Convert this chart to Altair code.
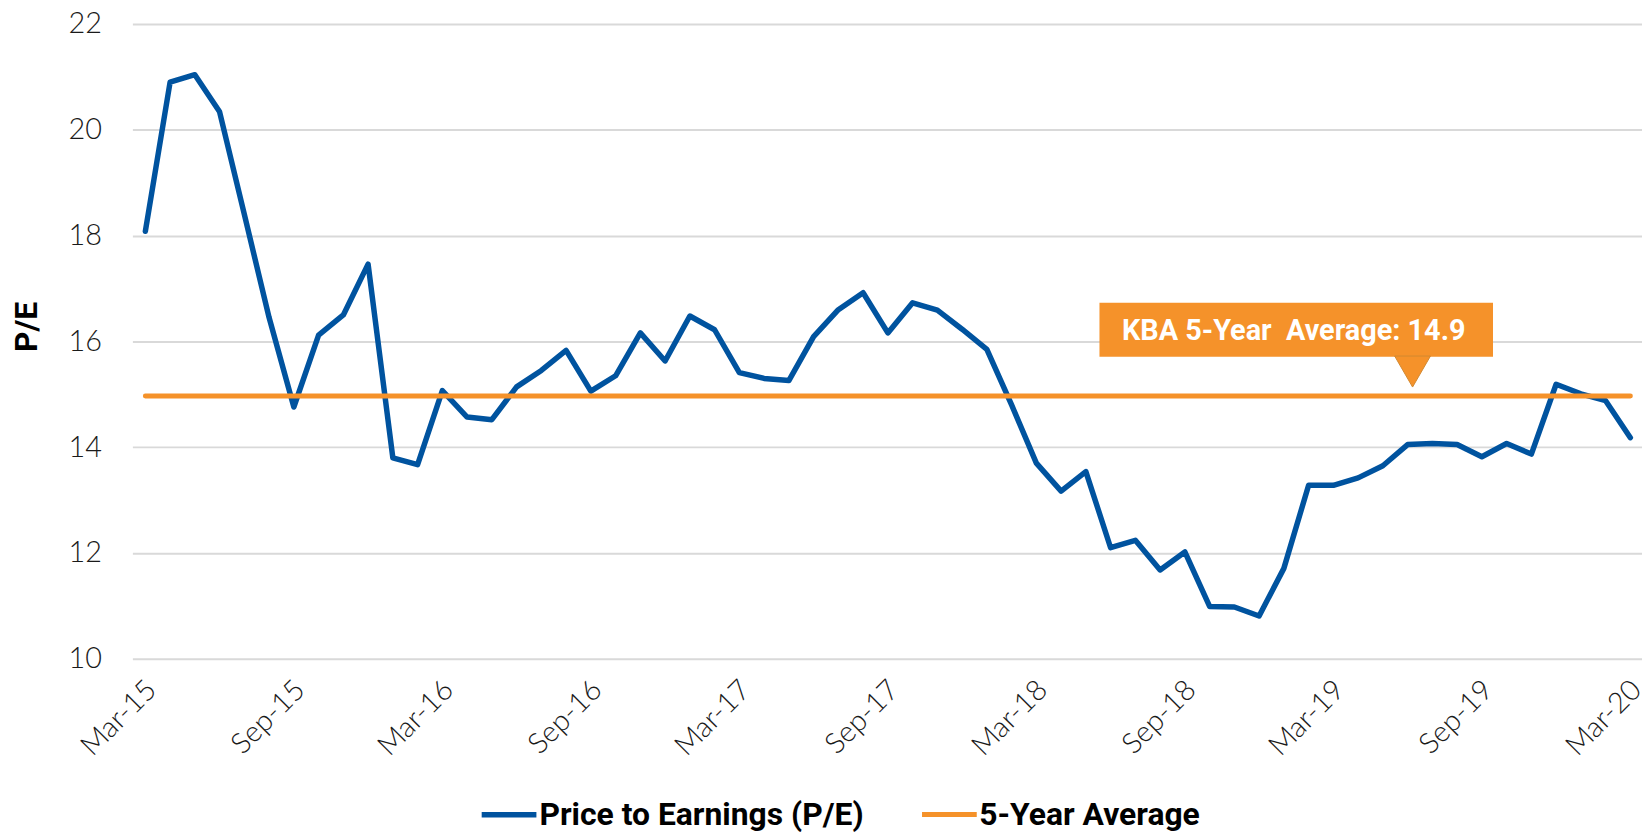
import altair as alt
import pandas as pd

# ---------------- data ----------------
MONTHS = [
    "Mar-15", "Apr-15", "May-15", "Jun-15", "Jul-15", "Aug-15", "Sep-15", "Oct-15", "Nov-15", "Dec-15",
    "Jan-16", "Feb-16", "Mar-16", "Apr-16", "May-16", "Jun-16", "Jul-16", "Aug-16", "Sep-16", "Oct-16",
    "Nov-16", "Dec-16", "Jan-17", "Feb-17", "Mar-17", "Apr-17", "May-17", "Jun-17", "Jul-17", "Aug-17",
    "Sep-17", "Oct-17", "Nov-17", "Dec-17", "Jan-18", "Feb-18", "Mar-18", "Apr-18", "May-18", "Jun-18",
    "Jul-18", "Aug-18", "Sep-18", "Oct-18", "Nov-18", "Dec-18", "Jan-19", "Feb-19", "Mar-19", "Apr-19",
    "May-19", "Jun-19", "Jul-19", "Aug-19", "Sep-19", "Oct-19", "Nov-19", "Dec-19", "Jan-20", "Feb-20",
    "Mar-20",
]
PE = [
    18.08, 20.90, 21.04, 20.34, 18.40, 16.45, 14.76, 16.12, 16.50, 17.46,
    13.80, 13.67, 15.07, 14.57, 14.52, 15.14, 15.45, 15.83, 15.06, 15.35,
    16.16, 15.63, 16.48, 16.22, 15.41, 15.30, 15.26, 16.09, 16.60, 16.92,
    16.16, 16.73, 16.59, 16.23, 15.85, 14.80, 13.70, 13.17, 13.54, 12.10,
    12.24, 11.68, 12.02, 10.99, 10.98, 10.81, 11.71, 13.28, 13.28, 13.42,
    13.65, 14.05, 14.07, 14.05, 13.82, 14.07, 13.87, 15.19, 15.01, 14.88,
    14.18,
]
AVERAGE = 14.97
SERIES = ["Price to Earnings (P/E)", "5-Year Average"]
COLORS = ["#00539F", "#F5922A"]
Y_TICKS = [10, 12, 14, 16, 18, 20, 22]
X_TICK_LABELS = ["Mar-15", "Sep-15", "Mar-16", "Sep-16", "Mar-17", "Sep-17",
                 "Mar-18", "Sep-18", "Mar-19", "Sep-19", "Mar-20"]
ANNOTATION_TEXT = "KBA 5-Year\u00a0 Average: 14.9"

# ---------------- tables ----------------
rows = []
for i, (m, v) in enumerate(zip(MONTHS, PE)):
    rows.append({"idx": i, "month": m, "value": v, "series": SERIES[0]})
for i, m in enumerate(MONTHS):
    rows.append({"idx": i, "month": m, "value": AVERAGE, "series": SERIES[1]})
df = pd.DataFrame(rows)

# annotation box placed in data space (month index / P/E units)
box = pd.DataFrame([{"idx": 38.55, "idx2": 54.45, "value": 15.71, "value2": 16.73}])
tri = pd.DataFrame([{"idx": 51.2, "value": 15.43}])
lab = pd.DataFrame([{"idx": 46.4, "value": 16.02, "text": ANNOTATION_TEXT}])

FONT = "Roboto"
TICK_FONT = "Lato"
label_array = "[" + ",".join("'" + m + "'" for m in MONTHS) + "]"
tick_idx = [MONTHS.index(m) for m in X_TICK_LABELS]

x_scale = alt.Scale(domain=[-0.523, 60.47], nice=False, zero=False)
y_scale = alt.Scale(domain=[10, 22], nice=False, zero=False)

x_axis = alt.Axis(
    values=tick_idx,
    labelExpr=label_array + "[datum.value]",
    labelAngle=-45,
    labelAlign="right",
    labelBaseline="middle",
    labelPadding=26,
    labelOffset=6,
    labelFont=TICK_FONT,
    labelFontWeight=300,
    labelFontSize=29,
    labelColor="#1a1a1a",
    ticks=False,
    domain=False,
    grid=False,
    title=None,
    labelOverlap=False,
)
y_axis = alt.Axis(
    values=Y_TICKS,
    format="d",
    labelFont=TICK_FONT,
    labelFontWeight=300,
    labelFontSize=29,
    labelColor="#1a1a1a",
    labelPadding=31,
    ticks=False,
    domain=False,
    grid=True,
    gridColor="#d9d9d9",
    gridWidth=2,
    title="P/E",
    titleFont=FONT,
    titleFontSize=32,
    titleFontWeight="bold",
    titleColor="#000000",
    titleAngle=270,
    titleAlign="center",
    titleBaseline="middle",
    titleX=-106,
    titleY=304,
)

lines = alt.Chart(df).mark_line(strokeJoin="round", strokeCap="round").encode(
    x=alt.X("idx:Q", scale=x_scale, axis=x_axis, title=None),
    y=alt.Y("value:Q", scale=y_scale, axis=y_axis, title="P/E"),
    strokeWidth=alt.StrokeWidth("series:N", scale=alt.Scale(domain=SERIES, range=[5.5, 5]), legend=None),
    color=alt.Color(
        "series:N",
        scale=alt.Scale(domain=SERIES, range=COLORS),
        legend=alt.Legend(
            orient="none",
            legendX=348,
            legendY=764,
            direction="horizontal",
            title=None,
            symbolType="stroke",
            symbolStrokeWidth=6,
            symbolSize=3025,
            labelFont=FONT,
            labelFontSize=32,
            labelFontWeight="bold",
            labelColor="#000000",
            labelOffset=0,
            labelLimit=600,
            columnPadding=48,
            padding=0,
        ),
    ),
)

rect = alt.Chart(box).mark_rect(color="#F5922A").encode(
    x=alt.X("idx:Q", scale=x_scale, title=None),
    x2="idx2:Q",
    y=alt.Y("value:Q", scale=y_scale, title="P/E"),
    y2="value2:Q",
)

triangle = alt.Chart(tri).mark_point(
    shape="triangle-down", filled=True, size=1296, color="#F5922A", opacity=1,
    stroke="#D2882F", strokeWidth=1,
).encode(
    x=alt.X("idx:Q", scale=x_scale, title=None),
    y=alt.Y("value:Q", scale=y_scale, title="P/E"),
)

text = alt.Chart(lab).mark_text(
    font=FONT, fontSize=29, fontWeight="bold", color="white",
    align="center", baseline="alphabetic",
).encode(
    x=alt.X("idx:Q", scale=x_scale, title=None),
    y=alt.Y("value:Q", scale=y_scale, title="P/E"),
    text="text:N",
)

chart = alt.layer(lines, rect, triangle, text).properties(
    width=1517,
    height=638,
    padding={"left": 125, "top": 14, "right": 0, "bottom": 175},
    autosize=alt.AutoSizeParams(type="none"),
    background="white",
).configure_view(stroke=None)

chart.save("out.html", embed_options={"renderer": "svg", "actions": False})
